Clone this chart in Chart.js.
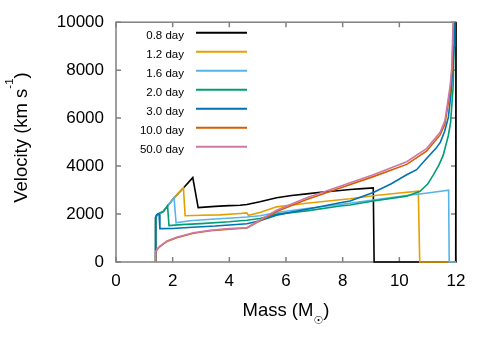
<!DOCTYPE html>
<html><head><meta charset="utf-8">
<script src="https://cdn.jsdelivr.net/npm/chart.js@4.4.0/dist/chart.umd.min.js"></script>
<style>html,body{margin:0;padding:0;background:#fff;}canvas{display:block;}</style>
</head><body>
<canvas id="c" width="491" height="343"></canvas>
<script>
const seriesLabels = ['0.8 day','1.2 day','1.6 day','2.0 day','3.0 day','10.0 day','50.0 day'];
const seriesColors = ['#000000','#E69F00','#56B4E9','#009E73','#0072B2','#D55E00','#CC79A7'];
const xTicks = [0,2,4,6,8,10,12];
const yTicks = [0,2000,4000,6000,8000,10000];

const mass08 = [1.40,1.40,1.45,1.49,1.67,1.82,2.05,2.38,2.71,2.90,3.5,4.0,4.38,4.62,5.08,5.67,6.2,6.73,7.3,7.91,8.26,8.7,9.08,9.11,11.99,12.0];
const vel08  = [0,1860,1970,2004,2111,2337,2678,3088,3520,2268,2320,2350,2365,2400,2510,2680,2770,2842,2920,2980,3021,3060,3090,0,0,10000];

const mass12 = [1.40,1.40,1.45,1.49,1.67,1.82,2.05,2.38,2.44,3.0,3.67,4.38,4.62,4.67,5.08,5.67,6.73,7.91,8.26,9.08,10.0,10.67,10.72,12.0];
const vel12  = [0,1860,1970,2004,2111,2337,2678,3088,1930,1950,1965,2022,2045,1945,2064,2300,2447,2596,2637,2760,2880,2952,0,0];

const mass16 = [1.40,1.40,1.45,1.49,1.67,1.82,2.05,2.12,2.6,3.5,4.38,4.62,5.08,5.67,6.73,7.91,9.08,10.26,11.0,11.74,11.76,12.0];
const vel16  = [0,1860,1970,2004,2111,2337,2678,1630,1720,1790,1857,1875,1927,2064,2230,2400,2580,2770,2880,2993,0,0];

const mass20 = [1.40,1.40,1.45,1.49,1.67,1.82,1.87,2.3,3.0,4.0,4.38,4.62,5.08,5.67,6.73,7.91,8.26,9.08,10.26,10.73,11.0,11.2,11.4,11.55,11.73,11.81,11.9,11.95];
const vel20  = [0,1860,1970,2004,2111,2337,1520,1560,1600,1680,1722,1740,1817,1996,2132,2337,2378,2542,2747,2952,3250,3636,4050,4457,5277,5823,7327,10000];

const mass30 = [1.40,1.40,1.43,1.47,1.52,1.55,2.0,2.7,3.5,4.0,4.62,5.08,5.67,6.73,7.91,8.26,9.08,9.7,10.26,10.61,10.96,11.3,11.45,11.6,11.73,11.82,11.88,11.93,11.96];
const vel30  = [0,1860,1960,2000,1990,1390,1400,1450,1500,1545,1595,1722,1955,2200,2473,2542,2900,3250,3636,3850,4318,4750,5000,5450,6030,7000,8000,9000,10000];

const mass100 = [1.40,1.40,1.45,1.55,1.8,2.14,2.73,3.32,4.0,4.62,5.08,5.67,6.73,7.91,9.08,10.26,10.96,11.44,11.61,11.79,11.86,11.91];
const vel100  = [0,400,520,640,860,1010,1200,1300,1370,1420,1720,2104,2610,3088,3560,4070,4620,5300,5750,7100,8000,10000];

const mass500 = [1.40,1.40,1.45,1.55,1.8,2.14,2.73,3.32,4.0,4.62,5.08,5.67,6.73,7.91,9.08,10.26,10.96,11.44,11.61,11.79,11.85,11.9];
const vel500  = [0,420,540,660,880,1030,1220,1320,1390,1430,1750,2160,2677,3157,3636,4182,4728,5412,5900,7327,8077,10000];

const massSets = [mass08,mass12,mass16,mass20,mass30,mass100,mass500];
const velSets  = [vel08,vel12,vel16,vel20,vel30,vel100,vel500];

const FONT = '"Liberation Sans", Arial, sans-serif';

const datasets = seriesLabels.map((lab,i)=>({
  label: lab,
  data: massSets[i].map((m,k)=>({x:m,y:velSets[i][k]})),
  borderColor: seriesColors[i],
  backgroundColor: seriesColors[i],
  borderWidth: 1.6,
  pointRadius: 0,
  fill: false,
  tension: 0,
  clip: false,
  order: -i
}));

const decor = {
  id:'decor',
  beforeDatasetsDraw(chart){
    const {ctx, chartArea:a, scales:{x,y}} = chart;
    ctx.save();
    ctx.strokeStyle = '#808080';
    ctx.lineWidth = 1.5;
    ctx.strokeRect(a.left, a.top, a.right-a.left, a.bottom-a.top);
    ctx.beginPath();
    xTicks.forEach(v=>{
      const p = x.getPixelForValue(v);
      ctx.moveTo(p,a.bottom); ctx.lineTo(p,a.bottom-5);
      ctx.moveTo(p,a.top); ctx.lineTo(p,a.top+5);
    });
    yTicks.forEach(v=>{
      const p = y.getPixelForValue(v);
      ctx.moveTo(a.left,p); ctx.lineTo(a.left+5,p);
      ctx.moveTo(a.right,p); ctx.lineTo(a.right-5,p);
    });
    ctx.stroke();
    ctx.restore();
  },
  afterDraw(chart){
    const {ctx, chartArea:a} = chart;
    ctx.save();
    // legend
    ctx.font = '11.5px ' + FONT;
    ctx.textAlign = 'right';
    ctx.textBaseline = 'alphabetic';
    chart.data.datasets.forEach((ds,i)=>{
      const ly = 32.7 + 19*i;
      ctx.fillStyle = '#000';
      ctx.fillText(ds.label, 184, ly + 6.5);
      ctx.strokeStyle = ds.borderColor;
      ctx.lineWidth = 2;
      ctx.beginPath(); ctx.moveTo(196, ly); ctx.lineTo(247, ly); ctx.stroke();
    });
    // x title
    ctx.textAlign = 'left';
    ctx.fillStyle = '#000';
    const mainF = '18.5px ' + FONT;
    ctx.font = mainF;
    const t1 = 'Mass (M', t3 = ')';
    const w1 = ctx.measureText(t1).width, w3 = ctx.measureText(t3).width;
    ctx.font = '11px "DejaVu Sans"';
    const w2 = ctx.measureText('\u2609').width;
    const cx = (a.left + a.right)/2;
    let sx = cx - (w1+w2+w3)/2;
    ctx.font = mainF; ctx.fillText(t1, sx, 316);
    ctx.font = '11px "DejaVu Sans"'; ctx.fillText('\u2609', sx+w1, 324);
    ctx.font = mainF; ctx.fillText(t3, sx+w1+w2, 316);
    // y title
    ctx.save();
    ctx.translate(26.7, 137.5);
    ctx.rotate(-Math.PI/2);
    const s1 = 'Velocity (km s', s2 = '-1', s3 = ')';
    ctx.font = mainF;
    const v1 = ctx.measureText(s1).width, v3 = ctx.measureText(s3).width;
    ctx.font = '11.5px ' + FONT;
    const v2 = ctx.measureText(s2).width;
    let vx = -(v1+v2+v3)/2;
    ctx.font = mainF; ctx.fillText(s1, vx, 0);
    ctx.font = '11.5px ' + FONT; ctx.fillText(s2, vx+v1, -13.4);
    ctx.font = mainF; ctx.fillText(s3, vx+v1+v2, 0);
    ctx.restore();
    ctx.restore();
  }
};

new Chart(document.getElementById('c'), {
  type: 'line',
  data: { datasets },
  options: {
    responsive: false,
    animation: false,
    devicePixelRatio: 1,
    layout: { padding: { top: 19, right: 35, left: 0, bottom: 0 } },
    plugins: { legend: { display: false }, tooltip: { enabled: false } },
    scales: {
      x: {
        type: 'linear', min: 0, max: 12,
        afterFit: s => { s.height = 81; },
        afterBuildTicks: s => { s.ticks = xTicks.map(v => ({ value: v })); },
        grid: { display: false, drawTicks: false },
        border: { display: false },
        ticks: { color: '#000', padding: 9, maxRotation: 0, autoSkip: false, font: { family: FONT, size: 17 }, callback: v => String(v) }
      },
      y: {
        type: 'linear', min: 0, max: 10000,
        afterFit: s => { s.width = 116; },
        afterBuildTicks: s => { s.ticks = yTicks.map(v => ({ value: v })); },
        grid: { display: false, drawTicks: false },
        border: { display: false },
        ticks: { color: '#000', padding: 12, autoSkip: false, font: { family: FONT, size: 17 }, callback: v => String(v) }
      }
    }
  },
  plugins: [decor]
});
</script>
</body></html>
